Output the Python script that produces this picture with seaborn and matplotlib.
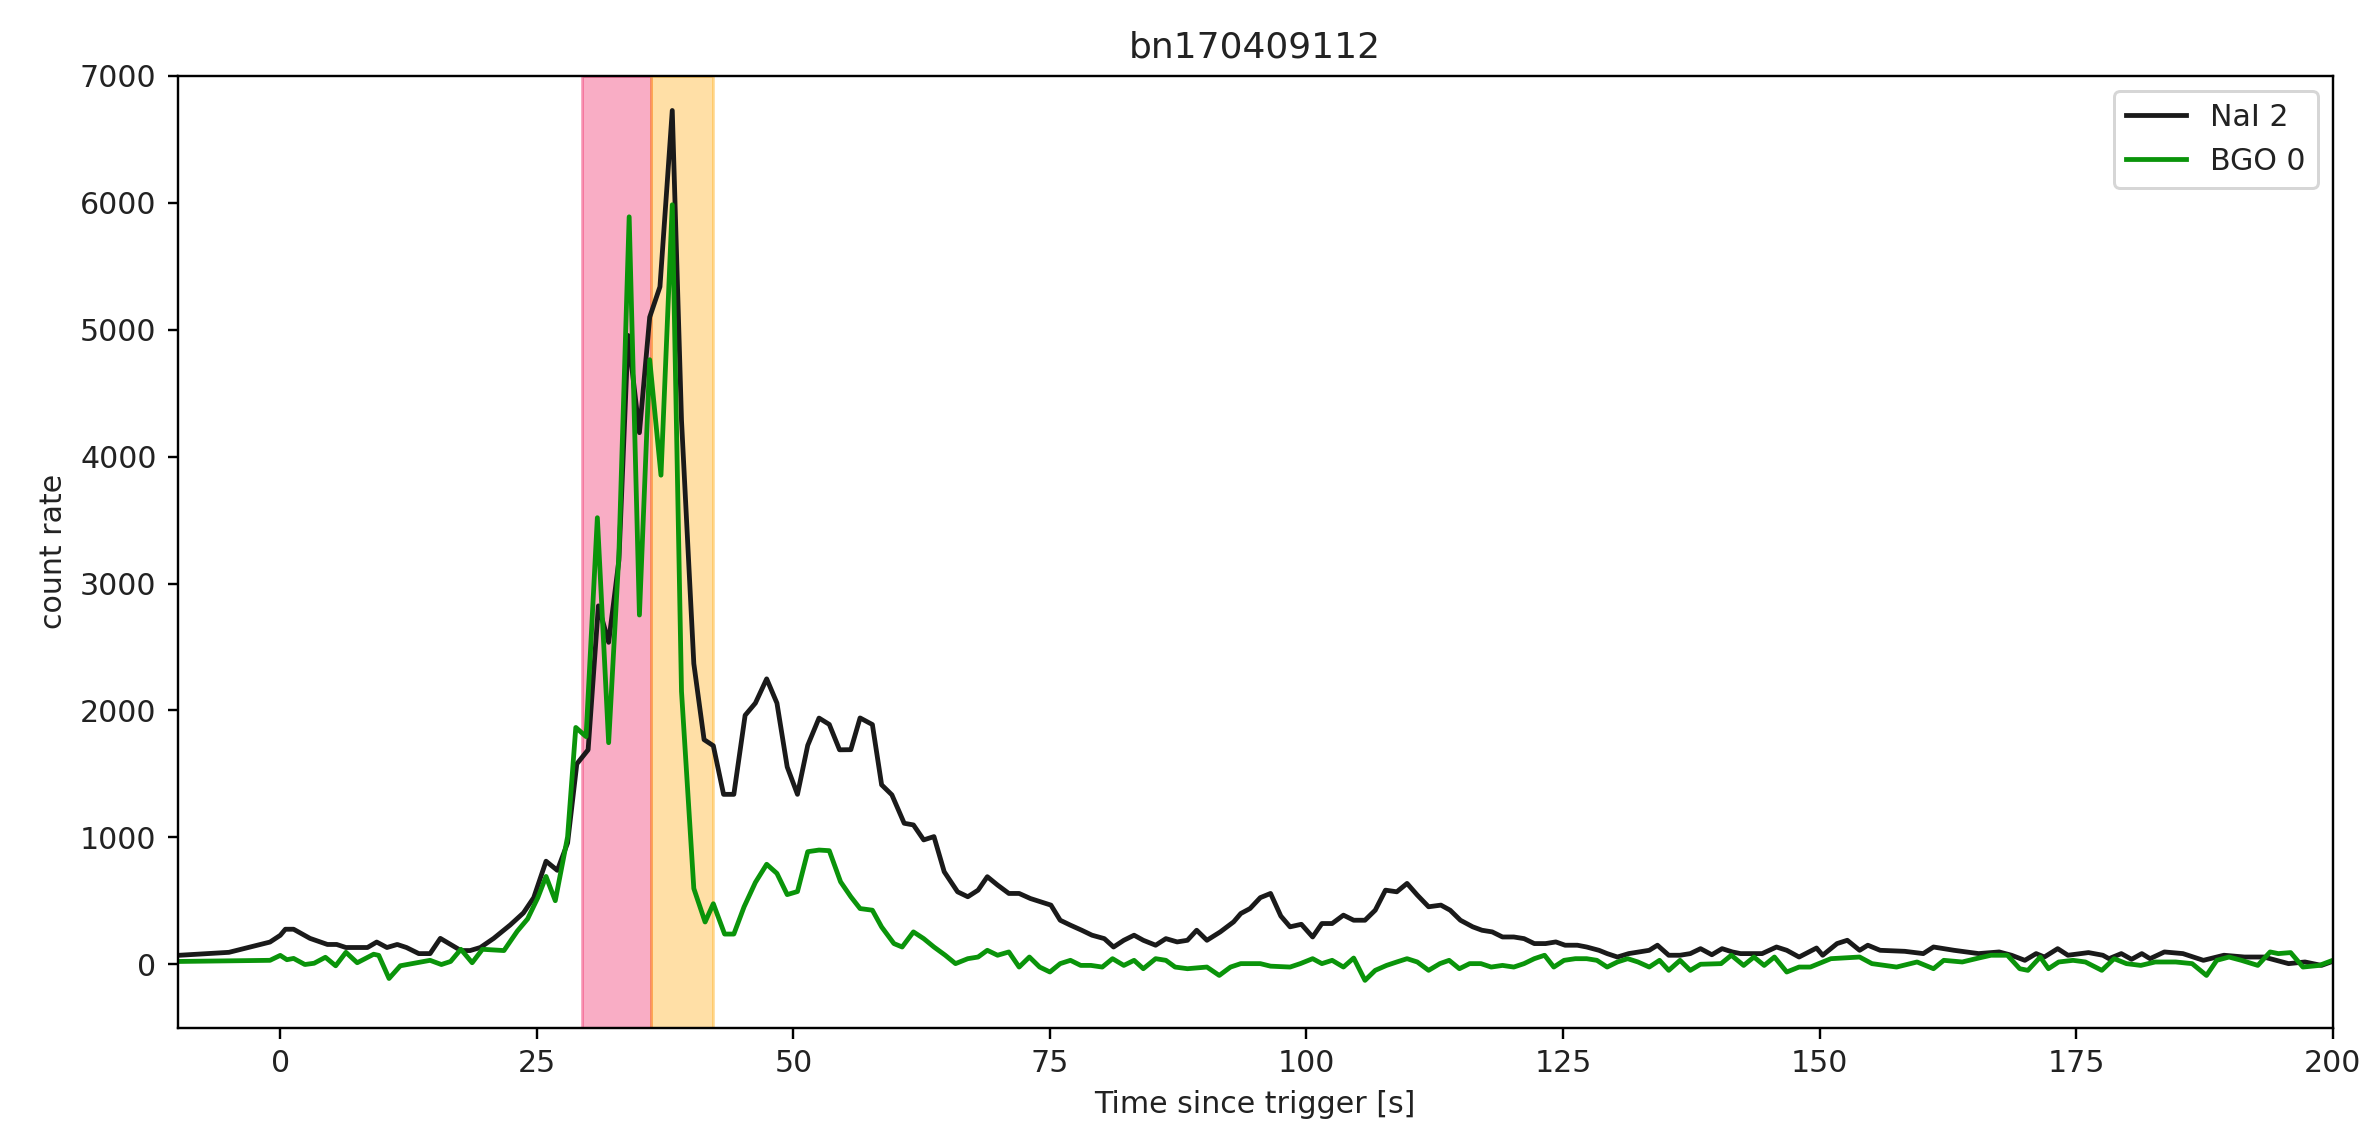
import matplotlib
matplotlib.use("Agg")
import matplotlib.pyplot as plt
import seaborn as sns
import pandas as pd

title = "bn170409112"
xlabel = "Time since trigger [s]"
ylabel = "count rate"
nai_label = "NaI 2"
bgo_label = "BGO 0"

# NaI 2 light curve (time [s], count rate)
t_nai = [-10, -5, -1, 0, 0.5, 1.3, 2.9, 4.6, 5.5, 6.4, 8.5, 9.4, 10.4, 11.4, 12.3, 13.5, 14.6,
         15.6, 16.6, 17.6, 18.5, 19.5, 20.8, 22.4, 23.7, 24.7, 25.9, 27.0, 28.0, 28.9, 30.0,
         31.0, 32.0, 33.0, 33.9, 35.0, 36.0, 37.0, 38.2, 39.1, 40.3, 41.3, 42.2, 43.2, 44.2,
         45.3, 46.3, 47.4, 48.4, 49.4, 50.4, 51.4, 52.5, 53.5, 54.5, 55.6, 56.5, 57.7, 58.6,
         59.6, 60.8, 61.7, 62.7, 63.7, 64.7, 66.0, 67.0, 68.0, 68.9, 69.9, 71.0, 72.0, 73.1,
         74.1, 75.1, 76.0, 77.0, 78.1, 79.1, 80.3, 81.2, 82.2, 83.2, 84.1, 85.3, 86.3, 87.4,
         88.4, 89.3, 90.3, 91.6, 92.9, 93.6, 94.5, 95.5, 96.5, 97.5, 98.4, 99.5, 100.6, 101.5,
         102.5, 103.6, 104.6, 105.7, 106.7, 107.7, 108.8, 109.8, 110.8, 111.9, 113.1, 114.0,
         115.0, 116.2, 117.1, 118.1, 119.1, 120.2, 121.2, 122.2, 123.3, 124.3, 125.2, 126.4,
         127.3, 128.5, 129.3, 130.3, 131.4, 132.4, 133.4, 134.2, 135.3, 136.4, 137.4, 138.4,
         139.5, 140.5, 141.5, 142.3, 143.3, 144.4, 145.8, 146.8, 148.0, 149.7, 150.3, 151.7,
         152.7, 153.9, 154.7, 155.9, 158.3, 160.1, 161.1, 163.1, 165.5, 167.5, 168.7, 170.0,
         171.1, 171.9, 173.2, 174.2, 176.2, 177.6, 178.2, 179.4, 180.4, 181.4, 182.2, 183.6,
         185.4, 187.4, 189.4, 191.4, 193.3, 195.7, 197.3, 198.9, 200.0]
nai = [70, 94, 175, 228, 276, 276, 204, 156, 156, 132, 132, 175, 132, 156, 132, 84, 84,
       204, 156, 108, 108, 132, 204, 309, 405, 525, 812, 740, 956, 1579, 1690,
       2824, 2537, 3183, 4955, 4189, 5099, 5339, 6728, 4285, 2369, 1770, 1722, 1339, 1339,
       1962, 2058, 2249, 2058, 1555, 1339, 1725, 1940, 1890, 1690, 1691, 1941, 1889, 1414,
       1335, 1111, 1098, 980, 1006, 729, 571, 532, 584, 690, 624, 558, 558, 518,
       492, 466, 347, 308, 268, 229, 202, 136, 189, 229, 189, 150, 202, 176,
       189, 268, 189, 255, 334, 400, 439, 525, 558, 380, 295, 315, 215, 321,
       321, 387, 347, 347, 426, 584, 571, 637, 545, 453, 466, 426,
       347, 295, 268, 255, 215, 215, 202, 163, 163, 176, 150, 150,
       136, 110, 84, 57, 84, 97, 110, 150, 71, 71, 84, 123,
       75, 123, 97, 84, 84, 84, 136, 110, 57, 128, 71, 163,
       189, 110, 150, 110, 102, 84, 136, 110, 84, 97, 71, 31,
       84, 57, 123, 71, 92, 71, 44, 84, 39, 84, 44, 97,
       84, 31, 71, 57, 57, 5, 18, -9, 23]

# BGO 0 light curve (time [s], count rate)
t_bgo = [-10, -1, 0, 0.65, 1.3, 2.4, 3.3, 4.4, 5.4, 6.4, 7.5, 9.1, 9.6, 10.6, 11.7, 13.3,
         14.6, 15.7, 16.6, 17.6, 18.7, 19.7, 21.8, 23.1, 24.1, 25.1, 25.9, 26.8, 28.0, 28.8,
         29.8, 30.9, 32.0, 33.0, 34.0, 35.0, 36.0, 37.1, 38.2, 39.1, 40.3, 41.4, 42.2, 43.3,
         44.2, 45.2, 46.3, 47.4, 48.4, 49.4, 50.4, 51.4, 52.5, 53.5, 54.6, 55.6, 56.5, 57.7,
         58.6, 59.8, 60.6, 61.7, 62.7, 63.7, 64.8, 65.8, 67.0, 68.0, 68.9, 69.9, 71.0, 72.0,
         73.0, 74.0, 75.0, 76.0, 77.0, 78.0, 79.0, 80.1, 81.1, 82.2, 83.2, 84.1, 85.3, 86.3,
         87.2, 88.4, 90.3, 91.5, 92.6, 93.6, 95.5, 96.5, 98.4, 99.4, 100.6, 101.5, 102.5,
         103.6, 104.6, 105.7, 106.7, 107.8, 108.8, 109.8, 110.8, 111.9, 113.0, 113.9, 114.9,
         115.9, 117.0, 118.0, 119.1, 120.2, 121.2, 122.2, 123.2, 124.1, 125.1, 126.2, 127.3,
         128.3, 129.3, 130.3, 131.3, 132.3, 133.4, 134.4, 135.3, 136.4, 137.4, 138.4, 140.4,
         141.4, 142.6, 143.6, 144.6, 145.6, 146.8, 148.0, 149.1, 150.3, 151.1, 153.9, 155.1,
         157.5, 159.5, 161.1, 162.1, 163.9, 165.5, 166.7, 168.3, 169.5, 170.3, 171.5, 172.3,
         173.3, 174.7, 175.9, 177.5, 178.7, 179.9, 181.3, 182.7, 184.7, 186.3, 187.7, 188.7,
         189.9, 191.1, 192.7, 193.9, 194.7, 195.9, 197.1, 198.7, 200.0]
bgo = [22, 31, 70, 36, 46, -2, 8, 55, -12, 94, 12, 79, 70, -112, -12, 12,
       31, -2, 22, 118, 12, 118, 108, 261, 357, 525, 692, 501, 1004, 1866,
       1794, 3519, 1746, 3231, 5890, 2752, 4764, 3854, 5985, 2150, 597, 333, 477, 238,
       238, 453, 645, 788, 716, 549, 573, 887, 900, 895, 650, 532, 439, 426,
       294, 163, 136, 255, 202, 136, 71, 5, 44, 57, 110, 71, 97, -22,
       57, -22, -61, 5, 31, -9, -9, -22, 44, -9, 31, -35, 44, 31,
       -22, -35, -22, -88, -22, 5, 5, -15, -22, 5, 44, 5, 31,
       -22, 49, -127, -48, -9, 18, 44, 18, -48, 5, 31, -35,
       5, 5, -22, -9, -22, 5, 44, 71, -22, 31, 44, 44,
       31, -22, 18, 44, 18, -22, 31, -48, 31, -48, 0, 5,
       71, -9, 57, -9, 57, -61, -22, -22, 18, 44, 57, 5,
       -22, 18, -35, 31, 18, 49, 71, 71, -35, -48, 57, -35,
       18, 31, 18, -48, 44, 5, -9, 18, 18, 5, -88, 31,
       57, 31, -9, 97, 84, 92, -22, -9, 31]

# highlighted intervals (s)
span_pink = (29.4, 36.1)
span_orange = (36.1, 42.2)

df_nai = pd.DataFrame({"t": t_nai, "rate": nai})
df_bgo = pd.DataFrame({"t": t_bgo, "rate": bgo})

plt.rcParams["font.family"] = ["DejaVu Sans"]
plt.rcParams["text.color"] = "#222222"
plt.rcParams["axes.labelcolor"] = "#222222"
plt.rcParams["xtick.labelcolor"] = "#222222"
plt.rcParams["ytick.labelcolor"] = "#222222"

fig = plt.figure(figsize=(2362 / 216, 1127 / 216), dpi=216)
ax = fig.add_axes([0.0752, 0.0881, 0.9124, 0.8445])

ax.axvspan(*span_pink, color="#F0145A", alpha=0.35, lw=1.0)
ax.axvspan(*span_orange, color="orange", alpha=0.35, lw=1.0)

sns.lineplot(data=df_nai, x="t", y="rate", ax=ax, color="#1a1a1a", lw=1.6,
             estimator=None, label=nai_label)
sns.lineplot(data=df_bgo, x="t", y="rate", ax=ax, color="#0a940a", lw=1.6,
             estimator=None, label=bgo_label)

ax.set_xlim(-10, 200)
ax.set_ylim(-500, 7000)
ax.set_xticks([0, 25, 50, 75, 100, 125, 150, 175, 200])
ax.set_yticks([0, 1000, 2000, 3000, 4000, 5000, 6000, 7000])
ax.set_title(title, fontsize=12)
ax.set_xlabel(xlabel)
ax.set_ylabel(ylabel)
ax.legend(loc="upper right")

fig.savefig("out.png", dpi=216)
